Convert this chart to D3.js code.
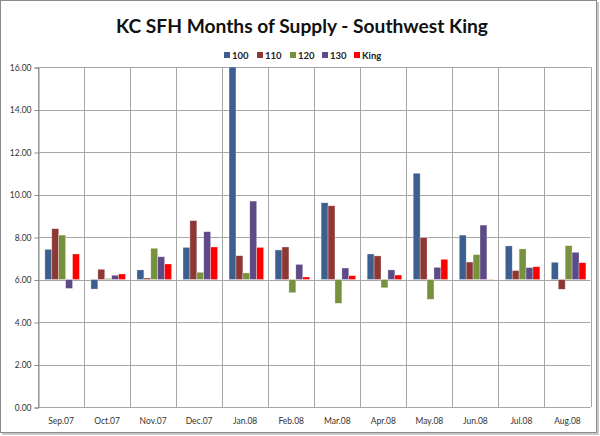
<!DOCTYPE html>
<html><head><meta charset="utf-8">
<script src="https://cdn.jsdelivr.net/npm/d3@7"></script>
<style>body{margin:0;background:#fff}svg{display:block}</style>
</head><body>
<script>
const categories = ["Sep.07","Oct.07","Nov.07","Dec.07","Jan.08","Feb.08","Mar.08","Apr.08","May.08","Jun.08","Jul.08","Aug.08"];
const seriesNames = ["100","110","120","130","King"];
const s100  = [7.42,5.55,6.45,7.51,16.0,7.39,9.61,7.20,11.00,8.09,7.58,6.81];
const s110  = [8.39,6.48,6.07,8.77,7.12,7.53,9.47,7.11,7.97,6.82,6.42,5.54];
const s120  = [8.09,6.05,7.47,6.34,6.31,5.38,4.88,5.61,5.07,7.17,7.44,7.59];
const s130  = [5.58,6.20,7.07,8.25,9.69,6.71,6.54,6.45,6.57,8.56,6.56,7.28];
const sKing = [7.20,6.26,6.73,7.53,7.51,6.12,6.18,6.21,6.95,6.01,6.60,6.79];
const yTicks = [0,2,4,6,8,10,12,14,16];
const baseline = 6;
const colors = ["#3B5F8F","#8E3836","#76923C","#5E4A87","#FF0000"];
const allSeries = [s100,s110,s120,s130,sKing];

const W=600,H=436;
const svg=d3.select("body").append("svg").attr("width",W).attr("height",H);
// frame with shadow
svg.append("rect").attr("x",2).attr("y",2).attr("width",597).attr("height",433).attr("fill","#c8c8c8");
svg.append("rect").attr("x",0.5).attr("y",0.5).attr("width",596).attr("height",432).attr("fill","#fff").attr("stroke","#8c8c8c");

const L=38,R=590.5,T=67,B=407;
const x=d3.scaleBand().domain(categories).range([L,R]).paddingInner(0).paddingOuter(0);
const y=d3.scaleLinear().domain([0,16]).range([B,T]);
const xs=d3.scaleBand().domain(seriesNames).range([0,x.bandwidth()]).paddingInner(0).paddingOuter(0.83).align(0.6);

// horizontal gridlines
svg.append("g").selectAll("line").data(yTicks).join("line")
  .attr("x1",L).attr("x2",R).attr("y1",d=>Math.round(y(d))+0.5).attr("y2",d=>Math.round(y(d))+0.5)
  .attr("stroke","#a6a6a6").attr("stroke-width",1);
// vertical gridlines
svg.append("g").selectAll("line").data(categories.concat(["end"])).join("line")
  .attr("x1",(d,i)=>Math.round(L+i*x.bandwidth())+0.5).attr("x2",(d,i)=>Math.round(L+i*x.bandwidth())+0.5)
  .attr("y1",T).attr("y2",B).attr("stroke","#a6a6a6");

// y axis
const ya=svg.append("g").attr("transform",`translate(${L+0.5},0.5)`)
  .call(d3.axisLeft(y).tickValues(yTicks).tickFormat(d3.format(".2f")).tickSize(4).tickPadding(3));
ya.select(".domain").attr("stroke","#8c8c8c");
ya.selectAll(".tick line").attr("stroke","#8c8c8c");
ya.selectAll("text").attr("font-family","Lato, 'DejaVu Sans', sans-serif").attr("font-size",8.5).attr("fill","#333");

// x labels
svg.append("g").selectAll("text").data(categories).join("text")
  .attr("x",d=>x(d)+x.bandwidth()/2).attr("y",424).attr("text-anchor","middle")
  .attr("font-family","Lato, sans-serif").attr("font-size",8.5).attr("fill","#333").text(d=>d);

// bars
seriesNames.forEach((s,si)=>{
  svg.append("g").selectAll("rect").data(allSeries[si]).join("rect")
    .attr("x",(d,i)=>x(categories[i])+xs(s))
    .attr("width",xs.bandwidth())
    .attr("y",d=>y(Math.max(d,baseline)))
    .attr("height",d=>Math.abs(y(d)-y(baseline)))
    .attr("fill",colors[si])
    .attr("stroke","rgba(255,255,255,0.5)").attr("stroke-width",0.6);
});

// title
svg.append("text").attr("x",302).attr("y",32.5).attr("text-anchor","middle")
  .attr("font-family","Lato, sans-serif").attr("font-weight","bold").attr("font-size",19.2)
  .attr("fill","#111").text("KC SFH Months of Supply - Southwest King");

// legend
const legX=[224,257,290,322,354];
const lg=svg.append("g");
seriesNames.forEach((s,i)=>{
  lg.append("rect").attr("x",legX[i]).attr("y",52).attr("width",6).attr("height",6).attr("fill",colors[i]);
  lg.append("text").attr("x",legX[i]+8).attr("y",58.5).attr("font-family","Lato, sans-serif")
    .attr("font-weight","bold").attr("font-size",9.5).attr("fill","#222").text(s);
});
</script>
</body></html>
